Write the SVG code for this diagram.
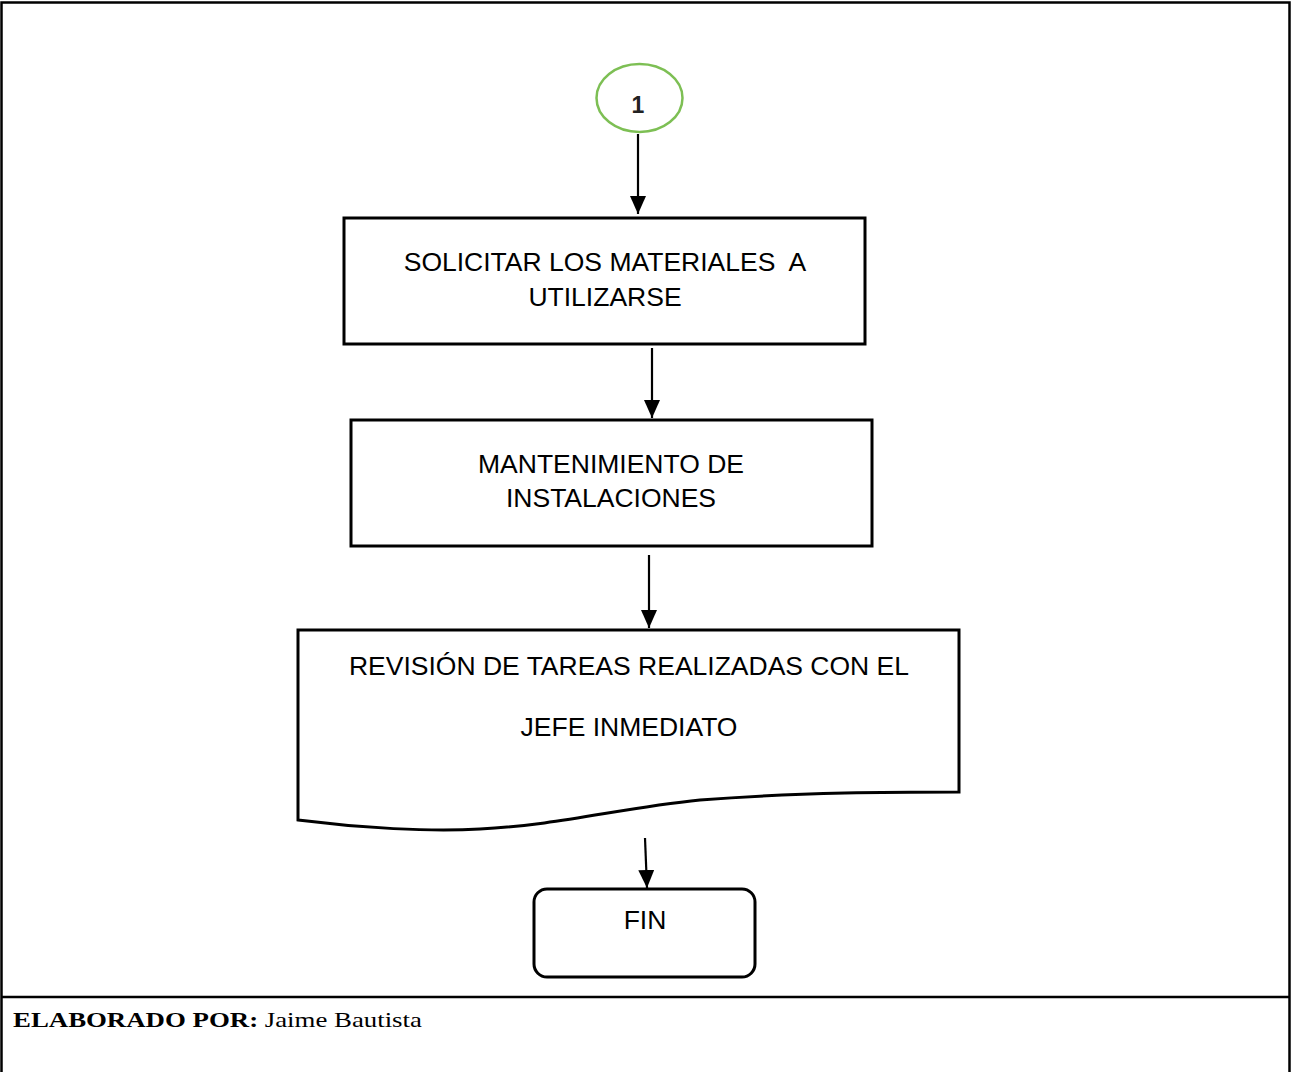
<svg xmlns="http://www.w3.org/2000/svg" width="1291" height="1072" viewBox="0 0 1291 1072">
  <style>
    .frame { fill: none; stroke: #000; stroke-width: 2.5; }
    .box { fill: #fff; stroke: #000; stroke-width: 3; }
    .lbl { font-family: "Liberation Sans", Arial, sans-serif; font-size: 26.5px; fill: #000; text-anchor: middle; white-space: pre; }
    .conn { stroke: #000; stroke-width: 2.2; fill: none; marker-end: url(#head); }
  </style>
  <defs>
    <marker id="head" markerUnits="userSpaceOnUse" markerWidth="18" markerHeight="16" refX="18" refY="8" orient="auto" viewBox="0 0 18 16">
      <path d="M0,0 L18,8 L0,16 Z" fill="#000"/>
    </marker>
  </defs>
  <rect width="1291" height="1072" fill="#fff"/>

  <!-- page frame -->
  <g id="frame">
    <path class="frame" d="M1.5,1072 V2.5 H1289.5 V1072"/>
    <line class="frame" x1="1.5" y1="997" x2="1289.5" y2="997"/>
  </g>

  <!-- connectors -->
  <g id="connectors">
    <line class="conn" x1="638" y1="134" x2="638" y2="214"/>
    <line class="conn" x1="652" y1="348" x2="652" y2="418"/>
    <line class="conn" x1="649" y1="555" x2="649" y2="628"/>
    <line class="conn" x1="645" y1="838" x2="647" y2="888"/>
  </g>

  <g id="connector-1">
    <ellipse cx="639.5" cy="98" rx="43" ry="34" fill="#fff" stroke="#7dbf54" stroke-width="2.5"/>
    <text x="638" y="113" font-family="Liberation Sans, Arial, sans-serif" font-size="23" font-weight="bold" fill="#222" text-anchor="middle">1</text>
  </g>

  <g id="solicitar">
    <rect class="box" x="344" y="218" width="521" height="126"/>
    <text class="lbl" x="605" y="271" xml:space="preserve">SOLICITAR LOS MATERIALES  A</text>
    <text class="lbl" x="605" y="306">UTILIZARSE</text>
  </g>

  <g id="mantenimiento">
    <rect class="box" x="351" y="420" width="521" height="126"/>
    <text class="lbl" x="611" y="473">MANTENIMIENTO DE</text>
    <text class="lbl" x="611" y="507">INSTALACIONES</text>
  </g>

  <g id="revision">
    <path class="box" d="M298,630 H959 V792 C900,792 800,792 700,800 C620,808 560,825 480,829 C430,832 360,828 298,820 Z"/>
    <text class="lbl" x="629" y="675">REVISIÓN DE TAREAS REALIZADAS CON EL</text>
    <text class="lbl" x="629" y="736">JEFE INMEDIATO</text>
  </g>

  <g id="fin">
    <rect class="box" x="534" y="889" width="221" height="88" rx="13" ry="13"/>
    <text class="lbl" x="645" y="929">FIN</text>
  </g>

  <g id="footer">
    <text transform="translate(13,1027) scale(1.22,1)" font-family="Liberation Serif, 'Times New Roman', serif" font-size="22" fill="#000"><tspan font-weight="bold">ELABORADO POR:</tspan> Jaime Bautista</text>
  </g>
</svg>
